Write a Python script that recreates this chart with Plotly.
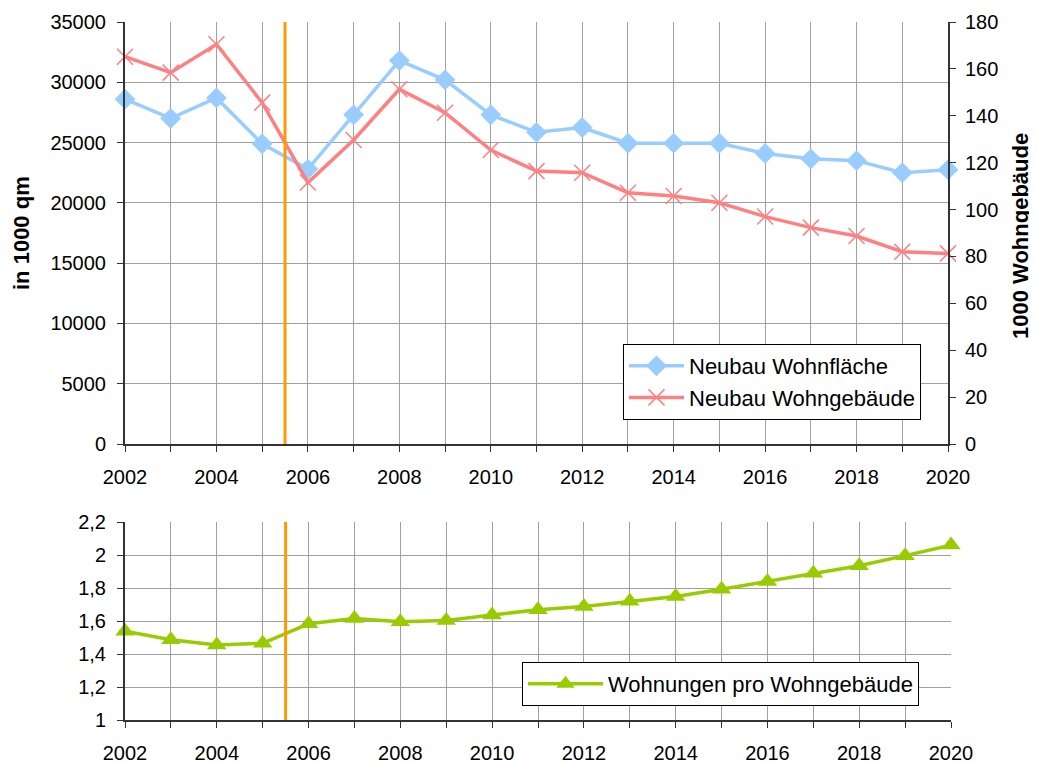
import plotly.graph_objects as go

# Neubau-Statistik 2002-2020
years = list(range(2002, 2021))
tick_labels = [str(y) if y % 2 == 0 else "" for y in years]

# Neubau Wohnfläche, in 1000 qm (linke Achse)
wohnflaeche = [28600, 27000, 28700, 24900, 22800, 27300, 31800, 30200, 27300, 25850,
               26250, 24950, 24950, 24950, 24100, 23650, 23500, 22500, 22750]

# Neubau Wohngebäude, in 1000 (rechte Achse)
wohngebaeude = [165.2, 158.4, 170.5, 145.6, 111.5, 129.7, 151.3, 141.3, 125.4, 116.4,
                115.7, 107.2, 105.8, 102.9, 97.0, 92.3, 88.7, 82.0, 81.3]

# Wohnungen pro Wohngebäude (unteres Diagramm)
wohnungen_pro_geb = [1.538, 1.486, 1.455, 1.465, 1.583, 1.615, 1.595, 1.603, 1.637, 1.668,
                     1.688, 1.720, 1.749, 1.793, 1.840, 1.890, 1.935, 1.996, 2.060]

marker_year = 2005.5

# die Seite hat 8px Rand -> Figur kleiner, Pixelangaben um 8 verschoben
OFF = 8
W, H = 1037 - OFF, 763 - OFF
FONT = "Liberation Sans, Arial, sans-serif"
GRID = "#a0a0a0"
AXIS = "#333333"


def px(x):
    return (x - OFF) / W


def py(y):
    return 1 - (y - OFF) / H


fig = go.Figure()

fig.add_trace(go.Scatter(
    x=years, y=wohnflaeche, name="Neubau Wohnfläche", mode="lines+markers",
    line=dict(color="#99ccff", width=3.5),
    marker=dict(symbol="diamond", size=16, color="#99ccff"),
    xaxis="x", yaxis="y", legend="legend", cliponaxis=False))

fig.add_trace(go.Scatter(
    x=years, y=wohngebaeude, name="Neubau Wohngebäude", mode="lines+markers",
    line=dict(color="#ff8080", width=3.5),
    marker=dict(symbol="x-thin", size=16, line=dict(color="#ff8080", width=1.5)),
    xaxis="x", yaxis="y2", legend="legend", cliponaxis=False))

fig.add_trace(go.Scatter(
    x=years, y=wohnungen_pro_geb, name="Wohnungen pro Wohngebäude", mode="lines+markers",
    line=dict(color="#99cc00", width=3.5),
    marker=dict(symbol="triangle-up", size=17, color="#99cc00"),
    xaxis="x2", yaxis="y3", legend="legend2", cliponaxis=False))

# orange Trennlinie in beiden Diagrammen
for xr, yr in [("x", "y"), ("x2", "y3")]:
    fig.add_shape(type="line", xref=xr, yref=yr + " domain",
                  x0=marker_year, x1=marker_year, y0=0, y1=1,
                  line=dict(color="#ff9900", width=3), layer="above")

tickfont = dict(family=FONT, size=20, color="black")

xcommon = dict(range=[2002, 2020], tickvals=years, ticktext=tick_labels,
               showgrid=True, gridcolor=GRID, gridwidth=1,
               showline=True, linecolor=AXIS, linewidth=2,
               ticks="outside", ticklen=6, tickcolor=AXIS,
               tickfont=tickfont, zeroline=False, ticklabelstandoff=8,
               automargin=False)

ycommon = dict(showline=True, linecolor=AXIS, linewidth=2,
               ticks="outside", ticklen=6, tickcolor=AXIS, tickfont=tickfont,
               zeroline=False, automargin=False, ticklabelstandoff=7)

fig.update_layout(
    width=W, height=H,
    margin=dict(l=0, r=0, t=0, b=0, autoexpand=False),
    paper_bgcolor="white", plot_bgcolor="white",
    separators=",.",
    font=dict(family=FONT, color="black"),
    xaxis=dict(xcommon, domain=[px(125), px(948)], anchor="y"),
    yaxis=dict(ycommon, domain=[py(444), py(22)], range=[0, 35000], dtick=5000,
               tickformat="d", showgrid=True, gridcolor=GRID, gridwidth=1, anchor="x"),
    yaxis2=dict(ycommon, overlaying="y", side="right", range=[0, 180], dtick=20,
                showgrid=False, anchor="x", ticklabelstandoff=5),
    xaxis2=dict(xcommon, domain=[px(125), px(951)], anchor="y3"),
    yaxis3=dict(ycommon, domain=[py(720), py(522)], range=[1, 2.2], dtick=0.2,
                showgrid=True, gridcolor=GRID, gridwidth=1, anchor="x2"),
    legend=dict(x=px(623), y=py(344), xanchor="left", yanchor="top",
                bgcolor="white", bordercolor="black", borderwidth=1,
                font=dict(family=FONT, size=22, color="black"),
                itemwidth=55, tracegroupgap=0),
    legend2=dict(x=px(522), y=py(662), xanchor="left", yanchor="top",
                 bgcolor="white", bordercolor="black", borderwidth=1,
                 font=dict(family=FONT, size=22, color="black"),
                 itemwidth=75),
    showlegend=True,
)

# Achsentitel
fig.add_annotation(text="<b>in 1000 qm</b>", xref="paper", yref="paper",
                   x=px(22), y=py(233), xanchor="center", yanchor="middle",
                   textangle=-90, showarrow=False,
                   font=dict(family=FONT, size=22, color="black"))
fig.add_annotation(text="<b>1000 Wohngebäude</b>", xref="paper", yref="paper",
                   x=px(1020), y=py(236), xanchor="center", yanchor="middle",
                   textangle=-90, showarrow=False,
                   font=dict(family=FONT, size=22, color="black"))

fig.write_html("out.html")
